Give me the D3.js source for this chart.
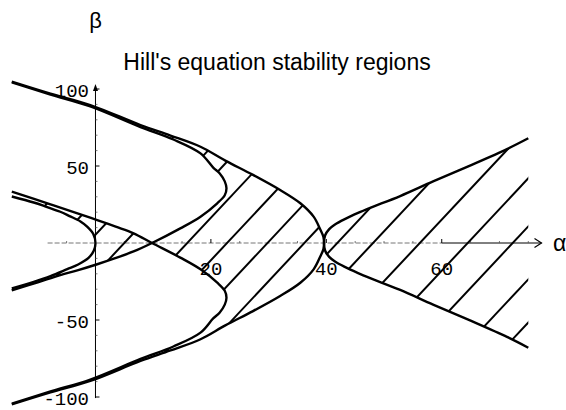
<!DOCTYPE html>
<html>
<head>
<meta charset="utf-8">
<script src="https://cdn.jsdelivr.net/npm/d3@7"></script>
<style>
  html, body { margin: 0; padding: 0; background: #fff; }
  svg { display: block; }
</style>
</head>
<body>
<svg id="chart" width="566" height="410"></svg>
<script>
// Transition curves of Hill's equation, [alpha, beta] points.
// Upper halves (beta >= 0) unless named otherwise.
const a0Upper = [[0,0],[-0.4,6],[-1.4,10.5],[-2.6,14],[-4.5,17.5],[-6.1,20.3],[-8.5,23.5],[-10.7,26.3],[-14.5,30.2]];
const a0Lower = [[0,0],[-0.3,-5],[-1.2,-9.7],[-3.0,-14],[-4.9,-17],[-7.8,-21.5],[-10.7,-25.2],[-14.5,-29.5]];
const b1Upper = [[9.8,0],[6.6,6.3],[3.5,10.6],[0.3,14.9],[-2.6,18.6],[-7.8,25.1],[-14.5,33.4]];
const b1Lower = [[9.8,0],[6.6,-5.5],[3.3,-10],[0.3,-13.8],[-3,-17.6],[-6.1,-20.8],[-10,-25.5],[-14.5,-30.8]];
const a1Upper = [[9.8,0],[14.7,9.5],[18.2,17.1],[21.1,25.8],[22.4,31],[22.7,35.5],[22.4,40],[21.5,45.3],[20.4,49],[18.2,58.2],[13.5,67.2],[7.8,75.3],[-0.9,88.7],[-7.8,96.4],[-14.5,104.3]];
const b2Upper = [[39.6,0],[39.5,4],[39.0,8.4],[37.8,17.1],[35.5,25.8],[32,34.4],[27.3,44.2],[22.5,53.5],[18.2,62.5],[13,69.8],[7.8,76.6],[-0.9,89.6],[-7.8,97],[-14.5,104.8]];
const a2Upper = [[39.6,0],[39.8,5],[40.5,9],[41.5,12],[43.2,15.5],[45.5,19.5],[47.6,22.8],[52.8,30.5],[58.5,40],[64.9,50.3],[71.3,61],[75,68]];

// Hatch lines: alpha where each line meets beta = 0, per stable region.
const hatchR0 = [-14.8, -6.9, -1.35, 5.0];
const hatchR1 = [-3.7, 4.5, 9.6, 15.9, 22.8, 29.8, 36.2];
const hatchR2 = [41.9, 48.1, 56.2, 64.5, 72.3, 80.9, 87.9];
const hatchSlope = 4; // d(beta)/d(alpha)

// Axis ticks and labels.
const xTickLabels = [20, 40, 60];
const xMinorTicks = [-5, 5, 10, 15, 25, 30, 35, 45, 50, 55, 65, 70, 75];
const yTickLabels = [-100, -50, 50, 100];
const yMinorTicks = [-90, -80, -70, -60, -40, -30, -20, -10, 10, 20, 30, 40, 60, 70, 80, 90];

const svg = d3.select("#chart");
const x = d3.scaleLinear().domain([-14.5, 75]).range([11.8, 528.3]);
const y = d3.scaleLinear().domain([-100, 100]).range([397, 89]);

const smooth = d3.line().x(d => x(d[0])).y(d => y(d[1])).curve(d3.curveCatmullRom.alpha(0.5));
const straight = d3.line().x(d => x(d[0])).y(d => y(d[1]));

const flip = pts => pts.map(([a, b]) => [a, -b]);
const rev = pts => pts.slice().reverse();

const a1Lower = flip(a1Upper);
const b2Lower = flip(b2Upper);
const a2Lower = flip(a2Upper);

// Closed outline built from curve pieces joined end to end.
function outline(pieces) {
  return pieces.map((p, i) => {
    const s = smooth(p);
    return i ? s.replace(/^M/, "L") : s;
  }).join("") + "Z";
}

const regions = [
  { id: "stable0", pieces: [rev(b1Upper), b1Lower, rev(a0Lower), a0Upper], hatch: hatchR0 },
  { id: "stable1", pieces: [a1Upper, rev(b2Upper), b2Lower, rev(a1Lower)], hatch: hatchR1 },
  { id: "stable2", pieces: [rev(a2Upper), a2Lower], hatch: hatchR2 }
];

const defs = svg.append("defs");
regions.forEach(r => {
  defs.append("clipPath").attr("id", r.id)
    .append("path").attr("d", outline(r.pieces));
});

// ---- axes ----
const axes = svg.append("g");
const y0 = y(0), x0 = x(0);

axes.append("line")
  .attr("x1", x(-8.3)).attr("x2", x(60)).attr("y1", y0).attr("y2", y0)
  .attr("stroke", "#777").attr("stroke-width", 1).attr("stroke-dasharray", "5 2");
axes.append("line")
  .attr("x1", x(60)).attr("x2", 541.5).attr("y1", y0).attr("y2", y0)
  .attr("stroke", "#000").attr("stroke-width", 1);
axes.append("path")
  .attr("d", `M534.5,${y0 - 4.5}L541.5,${y0}L534.5,${y0 + 4.5}`)
  .attr("fill", "none").attr("stroke", "#000").attr("stroke-width", 1.2);

axes.append("line")
  .attr("x1", x0).attr("x2", x0).attr("y1", y(-100.7)).attr("y2", 88)
  .attr("stroke", "#000").attr("stroke-width", 1);
axes.append("path")
  .attr("d", `M${x0},84L${x0 - 2.5},91L${x0 + 2.5},91Z`)
  .attr("fill", "#000");

axes.selectAll(".xt").data(xTickLabels).join("line")
  .attr("x1", d => x(d)).attr("x2", d => x(d)).attr("y1", y0).attr("y2", y0 - 4)
  .attr("stroke", "#000").attr("stroke-width", 1);
axes.selectAll(".xm").data(xMinorTicks).join("line")
  .attr("x1", d => x(d)).attr("x2", d => x(d)).attr("y1", y0).attr("y2", y0 - 2)
  .attr("stroke", "#555").attr("stroke-width", 0.8);
axes.selectAll(".yt").data(yTickLabels).join("line")
  .attr("x1", x0).attr("x2", x0 + 4).attr("y1", d => y(d)).attr("y2", d => y(d))
  .attr("stroke", "#000").attr("stroke-width", 1);
axes.selectAll(".ym").data(yMinorTicks).join("line")
  .attr("x1", x0).attr("x2", x0 + 2).attr("y1", d => y(d)).attr("y2", d => y(d))
  .attr("stroke", "#555").attr("stroke-width", 0.8);

const tickFont = "'Liberation Mono', 'DejaVu Sans Mono', monospace";
axes.selectAll(".xl").data(xTickLabels).join("text")
  .attr("x", d => x(d)).attr("y", 275)
  .attr("text-anchor", "middle")
  .attr("font-family", tickFont).attr("font-size", 19)
  .text(d => d);
axes.selectAll(".yl").data(yTickLabels).join("text")
  .attr("x", 89).attr("y", d => y(d) + 8)
  .attr("text-anchor", "end")
  .attr("font-family", tickFont).attr("font-size", 19)
  .text(d => d);

// ---- hatching of the stable regions ----
regions.forEach(r => {
  svg.append("g").attr("clip-path", `url(#${r.id})`)
    .selectAll("path").data(r.hatch).join("path")
    .attr("d", c => straight([[c - 110 / hatchSlope, -110], [c + 110 / hatchSlope, 110]]))
    .attr("fill", "none").attr("stroke", "#000").attr("stroke-width", 2);
});

// ---- transition curves ----
const curves = [
  rev(a0Upper).concat(a0Lower.slice(1)),
  rev(b1Upper).concat(a1Lower.slice(1)),
  rev(b1Lower).concat(a1Upper.slice(1)),
  rev(b2Upper).concat(b2Lower.slice(1)),
  rev(a2Upper).concat(a2Lower.slice(1))
];
svg.append("g").selectAll("path").data(curves).join("path")
  .attr("d", smooth)
  .attr("fill", "none").attr("stroke", "#000").attr("stroke-width", 2.4)
  .attr("stroke-linejoin", "round");

// ---- titles ----
const sans = "'Liberation Sans', Arial, sans-serif";
svg.append("text")
  .attr("x", 277).attr("y", 70).attr("text-anchor", "middle")
  .attr("font-family", sans).attr("font-size", 23)
  .text("Hill's equation stability regions");
svg.append("text")
  .attr("x", x0).attr("y", 28).attr("text-anchor", "middle")
  .attr("font-family", sans).attr("font-size", 22)
  .text("β");
svg.append("text")
  .attr("x", 553).attr("y", 251).attr("text-anchor", "start")
  .attr("font-family", sans).attr("font-size", 23)
  .text("α");
</script>
</body>
</html>
